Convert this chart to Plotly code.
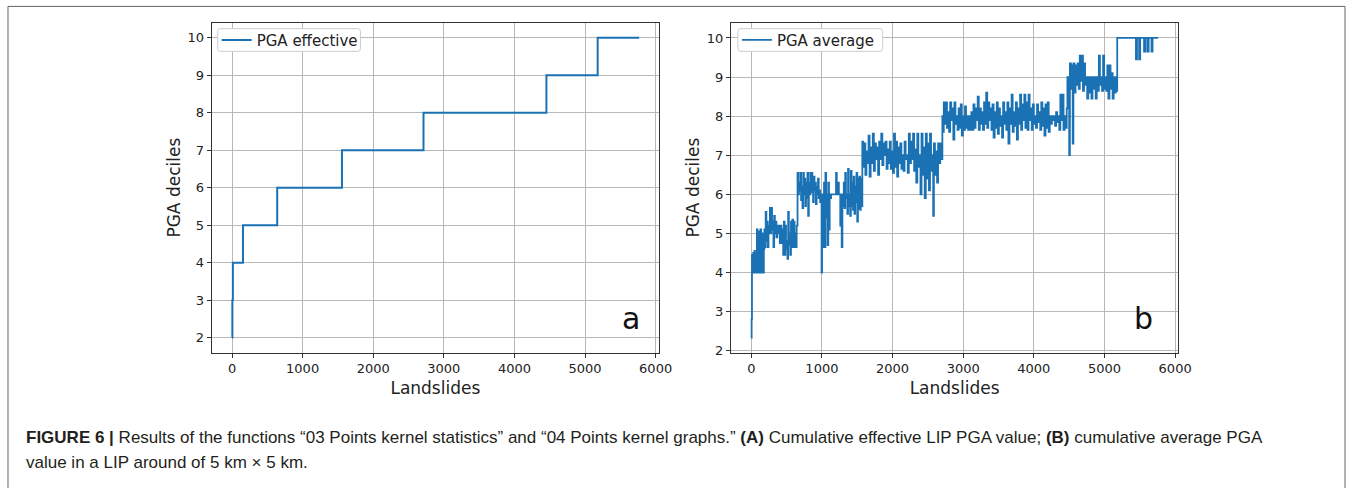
import plotly.graph_objects as go

# ---- Panel a: cumulative effective LIP PGA (step) ----
xa = [0, 5, 12, 155, 640, 1557, 2712, 4453, 5179, 5767]
ya = [2, 3, 4, 5, 6, 7, 8, 9, 10, 10]

# ---- Panel b: cumulative average PGA (noisy step) ----
xb = [0, 5, 10, 20, 28, 36, 45, 52, 60, 70, 80, 88, 96, 104, 112, 120, 130, 140, 150, 160, 168,
      178, 186, 194, 204, 214, 224, 234, 244, 254, 264, 274, 284, 294, 304, 314, 324, 334, 344,
      356, 368, 380, 392, 404, 416, 428, 440, 452, 462, 472, 482, 492, 502, 512, 522, 532, 542,
      552, 562, 572, 582, 592, 602, 612, 622, 632, 642,
      655, 665, 675, 685, 695, 705, 715, 725, 735, 745, 755, 765, 775, 785, 795, 805, 815, 825,
      835, 845, 855, 865, 875, 885, 895, 905, 915, 925, 935, 945, 955, 965, 975, 985, 995, 1002,
      1010, 1020, 1030, 1040, 1050, 1060, 1070, 1080, 1090, 1100, 1110, 1120, 1130, 1200, 1210,
      1230, 1240, 1260, 1270, 1280, 1290, 1300,
      1310, 1320, 1330, 1340, 1350, 1360, 1370, 1380, 1390, 1400, 1410, 1420, 1430, 1440, 1450,
      1460, 1470, 1480, 1490, 1500, 1510, 1520, 1530, 1540, 1550, 1560,
      1572, 1585, 1600, 1615, 1630, 1645, 1660, 1675, 1690, 1705, 1720, 1735, 1750, 1765, 1780,
      1795, 1810, 1825, 1840, 1855, 1870, 1885, 1900, 1915, 1930, 1945, 1960, 1975, 1990, 2005,
      2020, 2035, 2050, 2065, 2080, 2095, 2110, 2125, 2140, 2155, 2170, 2185, 2200, 2215, 2230,
      2245, 2260, 2275, 2290, 2305, 2320, 2335, 2350, 2365, 2380, 2395, 2410, 2425, 2440, 2455,
      2470, 2485, 2500, 2515, 2530, 2545, 2560, 2575, 2585, 2600, 2615, 2630, 2645, 2660, 2675,
      2690,
      2705, 2715, 2725, 2740, 2755, 2770, 2785, 2800, 2815, 2830, 2845, 2860, 2875, 2890, 2905,
      2920, 2935, 2950, 2965, 2980, 2995, 3010, 3025, 3040, 3055, 3070, 3085, 3100, 3115, 3130,
      3145, 3160, 3175, 3190, 3205, 3220, 3235, 3250, 3265, 3280, 3295, 3310, 3325, 3340, 3355,
      3370, 3385, 3400, 3415, 3430, 3445, 3460, 3475, 3490, 3505, 3520, 3535, 3550, 3565, 3580,
      3595, 3610, 3625, 3640, 3655, 3670, 3685, 3700, 3715, 3730, 3745, 3760, 3775, 3790, 3805,
      3820, 3835, 3850, 3865, 3880, 3895, 3910, 3925, 3940, 3955, 3970, 3985, 4000, 4015, 4030,
      4045, 4060, 4075, 4090, 4105, 4120, 4135, 4150, 4165, 4180, 4195, 4210, 4225, 4240, 4255,
      4270, 4285, 4300, 4315, 4330, 4345, 4360, 4375, 4390, 4405, 4420, 4435, 4450, 4465,
      4475, 4490, 4500, 4510, 4525, 4540, 4550, 4560, 4575, 4590, 4605, 4620, 4635, 4650, 4665,
      4680, 4695, 4710, 4725, 4740, 4755, 4770, 4785, 4800, 4815, 4830, 4845, 4860, 4875, 4890,
      4905, 4920, 4935, 4950, 4965, 4980, 4995, 5010, 5025, 5040, 5055, 5070, 5085, 5100, 5115,
      5130, 5145, 5160, 5172,
      5180, 5445, 5460, 5490, 5505, 5560, 5580, 5610, 5625, 5665, 5680, 5760]
yb = [2.33, 2.8, 4.45, 4.0, 4.5, 4.0, 4.55, 4.0, 4.5, 4.0, 5.1, 4.0, 4.6, 5.05, 4.0, 4.5, 5.1, 4.0, 4.6, 5.0, 4.0,
      4.6, 5.1, 4.65, 5.55, 4.8, 5.3, 4.65, 5.2, 5.0, 5.65, 5.0, 5.65, 5.1, 5.3, 4.65, 5.45, 5.0, 5.3,
      4.9, 5.2, 5.0, 5.2, 4.75, 5.2, 4.75, 5.1, 4.45, 5.3, 4.45, 5.2, 4.6, 4.8, 4.35, 5.55, 4.7, 5.0,
      4.45, 5.3, 4.65, 5.35, 4.65, 5.3, 4.65, 5.0, 4.65, 5.2,
      6.55, 6.0, 6.3, 6.1, 6.55, 5.85, 6.2, 5.65, 6.55, 6.0, 6.4, 5.7, 6.3, 5.9, 6.55, 5.45, 6.3, 6.0,
      6.55, 6.05, 6.55, 6.1, 5.8, 6.45, 6.1, 6.3, 5.75, 6.2, 6.0, 6.4, 5.9, 6.1, 5.8, 6.0, 4.0, 6.0,
      5.8, 4.65, 6.3, 4.65, 6.55, 5.4, 6.0, 4.7, 6.3, 5.1, 6.0, 5.9, 6.0, 6.55, 6.0,
      6.3, 6.0, 5.2, 6.0, 4.65, 6.0, 5.7,
      6.3, 5.65, 6.55, 5.9, 6.0, 5.5, 6.65, 5.7, 6.0, 5.45, 6.6, 5.7, 6.3, 5.6, 6.45,
      5.5, 6.2, 5.8, 6.55, 5.3, 6.4, 5.65, 6.45, 5.6, 6.4, 5.7,
      7.35, 6.7, 7.3, 6.5, 7.1, 6.8, 7.5, 6.45, 7.2, 6.8, 7.55, 6.6, 7.3, 6.9, 7.2,
      6.5, 7.35, 6.9, 7.55, 6.75, 7.3, 7.0, 7.35, 6.65, 7.15, 6.8, 7.35, 6.65, 7.1, 6.55,
      7.55, 6.7, 7.35, 6.45, 7.2, 6.8, 7.3, 6.65, 7.0, 6.6, 7.35, 6.9, 7.0, 6.55, 7.55,
      6.8, 7.35, 6.9, 7.55, 6.6, 7.15, 6.3, 7.55, 6.7, 7.0, 6.0, 7.55, 6.5, 7.2, 5.9,
      7.55, 6.4, 7.3, 6.1, 7.55, 6.6, 7.0, 5.45, 7.3, 6.5, 7.1, 6.3, 7.3, 6.8, 7.3,
      6.9,
      8.0, 7.6, 8.35, 7.8, 8.35, 7.7, 8.1, 7.6, 8.35, 7.9, 8.2, 7.4, 8.35, 7.8, 8.0,
      7.65, 8.2, 7.7, 8.3, 7.5, 8.0, 7.65, 8.25, 7.7, 8.0, 7.65, 8.0, 7.65, 8.1, 7.65,
      8.3, 7.7, 8.2, 7.9, 8.5, 7.65, 8.2, 7.8, 8.1, 7.65, 8.35, 7.8, 8.6, 7.7, 8.35,
      7.9, 8.2, 7.65, 8.3, 7.45, 8.1, 7.7, 8.35, 7.55, 8.2, 7.75, 8.0, 7.45, 8.35, 7.8,
      8.1, 7.65, 8.35, 7.3, 8.2, 7.8, 8.55, 7.6, 8.1, 7.75, 8.35, 7.4, 8.2, 7.8, 8.55,
      7.65, 8.3, 7.9, 8.55, 7.7, 8.35, 7.65, 8.55, 7.9, 8.2, 7.65, 8.3, 7.8, 8.0, 7.7,
      8.3, 7.85, 8.1, 7.65, 8.35, 7.75, 8.2, 7.5, 8.3, 7.7, 8.35, 7.6, 8.0, 7.8, 8.0,
      7.9, 8.0, 7.75, 8.1, 7.85, 8.0, 7.65, 8.55, 7.9, 8.55, 7.65, 8.0, 7.7, 8.2,
      9.0, 8.6, 7.0, 9.35, 8.7, 9.3, 7.3, 9.35, 8.6, 9.3, 8.8, 9.35, 8.7, 9.55, 8.9,
      9.55, 8.65, 9.35, 8.8, 9.0, 8.45, 9.0, 8.6, 9.0, 8.45, 9.0, 8.7, 9.0, 8.45, 9.0,
      8.65, 9.55, 8.8, 9.0, 8.65, 9.55, 8.7, 9.0, 8.65, 9.3, 8.45, 9.3, 8.7, 9.1, 8.45,
      9.0, 8.6, 9.0, 8.65,
      10.0, 9.45, 10.0, 9.45, 10.0, 9.65, 10.0, 9.65, 10.0, 9.65, 10.0, 10.0]

x_ticks = [0, 1000, 2000, 3000, 4000, 5000, 6000]
y_ticks = [2, 3, 4, 5, 6, 7, 8, 9, 10]

BLUE = "#1a72b5"
TXT = "#222222"
FONT = "DejaVu Sans"
W, H = 1365, 488          # figure size (px)
SX = W / 1354.0           # target-pixel -> figure-pixel horizontal factor

fig = go.Figure()
fig.add_trace(go.Scatter(x=xa, y=ya, mode="lines", line=dict(color=BLUE, width=2, shape="hv"),
                         name="PGA effective", xaxis="x", yaxis="y", legend="legend"))
fig.add_trace(go.Scatter(x=xb, y=yb, mode="lines", line=dict(color=BLUE, width=1.8, shape="hv"),
                         name="PGA average", xaxis="x2", yaxis="y2", legend="legend2"))

ax_common = dict(showline=True, mirror=True, linecolor="#333333", linewidth=1,
                 ticks="outside", ticklen=4, tickcolor="#333333",
                 showgrid=True, gridcolor="#b8b8b8", gridwidth=1, zeroline=False,
                 tickfont=dict(family=FONT, size=13, color=TXT))


def px_x(p):
    return p * SX / W


def px_y(p):
    return 1 - p / H


def rounded_box(x0, y0, x1, y1, r=3):
    pts = [
        ("M", [(x0 + r, y0)]), ("L", [(x1 - r, y0)]), ("Q", [(x1, y0), (x1, y0 + r)]),
        ("L", [(x1, y1 - r)]), ("Q", [(x1, y1), (x1 - r, y1)]), ("L", [(x0 + r, y1)]),
        ("Q", [(x0, y1), (x0, y1 - r)]), ("L", [(x0, y0 + r)]), ("Q", [(x0, y0), (x0 + r, y0)]),
    ]
    s = ""
    for cmd, ps in pts:
        s += cmd + " " + " ".join(f"{px_x(a):.6f},{px_y(b):.6f}" for a, b in ps) + " "
    return s + "Z"


title_font = dict(family=FONT, size=17, color=TXT)
fig.update_layout(
    width=W, height=H,
    margin=dict(l=0, r=0, t=0, b=0),
    paper_bgcolor="white", plot_bgcolor="white",
    showlegend=True,
    xaxis=dict(domain=[px_x(212), px_x(660)], range=[-288, 6048], tickvals=x_ticks, anchor="y",
               title=dict(text="Landslides", font=title_font, standoff=6), **ax_common),
    yaxis=dict(domain=[px_y(357), px_y(23)], range=[1.6, 10.4], tickvals=y_ticks, anchor="x",
               title=dict(text="PGA deciles", font=title_font, standoff=2), **ax_common),
    xaxis2=dict(domain=[px_x(732), px_x(1180)], range=[-288, 6044], tickvals=x_ticks, anchor="y2",
                title=dict(text="Landslides", font=title_font, standoff=6), **ax_common),
    yaxis2=dict(domain=[px_y(357), px_y(23)], range=[1.95, 10.39], tickvals=y_ticks, anchor="x2",
                title=dict(text="PGA deciles", font=title_font, standoff=2), **ax_common),
    legend=dict(x=px_x(217), y=px_y(24), xanchor="left", yanchor="top",
                bgcolor="rgba(0,0,0,0)", borderwidth=0,
                font=dict(family=FONT, size=15, color=TXT)),
    legend2=dict(x=px_x(738), y=px_y(24), xanchor="left", yanchor="top",
                 bgcolor="rgba(0,0,0,0)", borderwidth=0,
                 font=dict(family=FONT, size=15, color=TXT)),
)

for (bx0, bx1) in [(218, 361), (739, 884)]:
    fig.add_shape(type="path", xref="paper", yref="paper", path=rounded_box(bx0, 29, bx1, 52),
                  line=dict(color="#cccccc", width=1), fillcolor="white", layer="above")

fig.add_annotation(text="a", x=px_x(632), y=px_y(322), xref="paper", yref="paper",
                   showarrow=False, font=dict(family=FONT, size=30, color="#111111"))
fig.add_annotation(text="b", x=px_x(1157), y=px_y(322), xref="paper", yref="paper",
                   showarrow=False, font=dict(family=FONT, size=30, color="#111111"))

CAP = "Liberation Sans"
fig.add_annotation(
    text="<b>FIGURE 6 |</b> Results of the functions “03 Points kernel statistics” and “04 Points kernel graphs.” "
         "<b>(A)</b> Cumulative effective LIP PGA value; <b>(B)</b> cumulative average PGA",
    x=px_x(24), y=px_y(443), xref="paper", yref="paper", xanchor="left", yanchor="middle",
    showarrow=False, font=dict(family=CAP, size=17, color="#231f20"))
fig.add_annotation(
    text="value in a LIP around of 5 km × 5 km.",
    x=px_x(24), y=px_y(468), xref="paper", yref="paper", xanchor="left", yanchor="middle",
    showarrow=False, font=dict(family=CAP, size=17, color="#231f20"))

fig.add_shape(type="rect", xref="paper", yref="paper",
              x0=px_x(8), x1=px_x(1347), y0=-0.05, y1=px_y(6.5),
              line=dict(color="#666666", width=1), fillcolor="rgba(0,0,0,0)")

fig.write_html(
    "out.html",
    config={"displayModeBar": False},
    post_script=("document.body.style.margin='0';"
                 "document.body.style.overflow='hidden';"
                 "document.documentElement.style.overflow='hidden';"),
)
